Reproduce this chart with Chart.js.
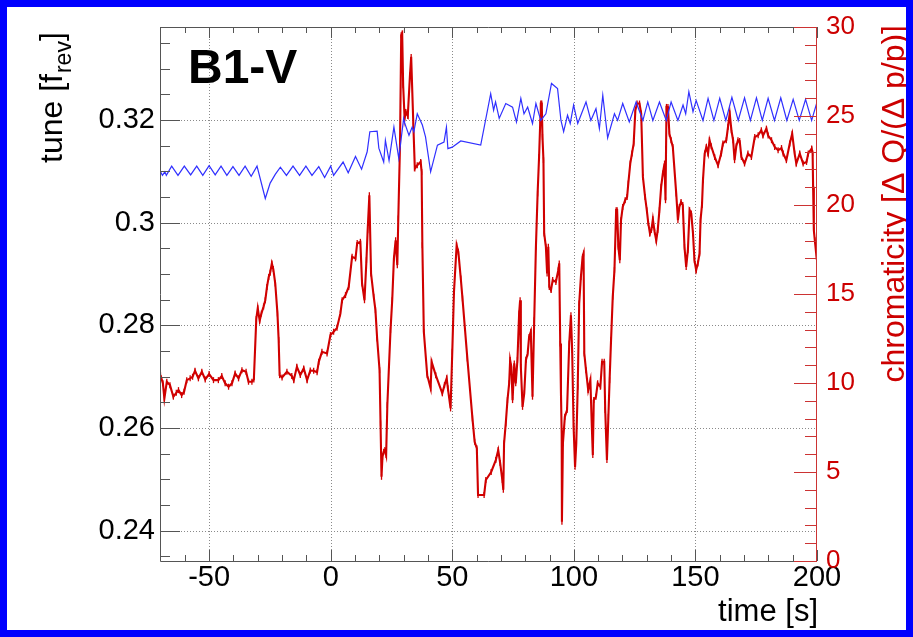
<!DOCTYPE html>
<html><head><meta charset="utf-8">
<script src="https://cdn.jsdelivr.net/npm/chart.js@4/dist/chart.umd.min.js"></script>
<style>html,body{margin:0;padding:0;background:#fff;}#wrap{width:913px;height:637px;position:relative;}canvas{display:block;}</style>
</head><body><div id="wrap"><canvas id="c" width="913" height="637"></canvas></div>
<script>
// ---- data ----
const tuneT = [-70.2,-69.2,-68.2,-67.6,-65.4,-62.8,-60.2,-57.6,-55.1,-52.6,-50.0,-47.5,-45.1,-42.7,-40.2,-37.7,-35.2,-32.7,-30.3,-26.9,-24.9,-22.8,-20.7,-18.2,-15.5,-12.8,-10.2,-7.7,-4.9,-2.5,0.0,1.2,5.1,7.2,10.2,12.7,15.0,16.1,19.1,19.8,21.8,22.5,24.0,26.0,28.0,30.0,30.5,32.2,33.5,34.2,35.6,37.7,39.0,41.1,43.9,46.6,47.6,48.2,50.0,53.5,61.7,65.8,67.0,67.8,69.3,72.0,74.8,76.4,78.2,79.5,81.0,83.0,84.4,86.4,88.5,90.8,93.3,94.7,95.8,97.4,98.5,99.9,101.6,102.9,105.0,107.0,109.1,110.5,111.9,113.9,116.7,118.0,120.1,122.8,125.6,128.4,130.4,132.5,135.2,138.0,140.0,142.8,144.9,146.0,147.3,149.0,150.3,153.1,155.2,157.6,160.0,162.5,165.0,167.6,170.2,172.6,175.1,177.5,179.9,182.5,185.1,187.6,190.2,192.7,195.3,197.8,200.2];
const tuneV = [0.3101,0.3092,0.3099,0.3092,0.3110,0.3092,0.3110,0.3093,0.3110,0.3092,0.3111,0.3093,0.3110,0.3092,0.3109,0.3092,0.3110,0.3090,0.3110,0.3047,0.3077,0.3094,0.3108,0.3092,0.3110,0.3092,0.3110,0.3092,0.3109,0.3088,0.3110,0.3092,0.3118,0.3097,0.3129,0.3104,0.3138,0.3177,0.3178,0.3145,0.3118,0.3160,0.3121,0.3186,0.3125,0.3203,0.3193,0.3170,0.3186,0.3177,0.3212,0.3190,0.3167,0.3099,0.3151,0.3157,0.3186,0.3144,0.3147,0.3159,0.3151,0.3251,0.3219,0.3235,0.3203,0.3232,0.3225,0.3196,0.3242,0.3212,0.3225,0.3193,0.3232,0.3199,0.3212,0.3271,0.3261,0.3199,0.3177,0.3209,0.3193,0.3229,0.3193,0.3209,0.3235,0.3199,0.3222,0.3183,0.3248,0.3165,0.3212,0.3199,0.3232,0.3196,0.3235,0.3199,0.3235,0.3199,0.3235,0.3199,0.3235,0.3199,0.3229,0.3212,0.3255,0.3216,0.3238,0.3199,0.3242,0.3199,0.3242,0.3199,0.3244,0.3199,0.3243,0.3199,0.3243,0.3199,0.3242,0.3199,0.3243,0.3199,0.3240,0.3199,0.3240,0.3199,0.3238];
const chromT = [-70.0,-69.0,-68.4,-67.4,-66.1,-64.7,-63.5,-62.6,-61.3,-60.3,-59.2,-57.8,-56.8,-55.8,-54.4,-53.0,-51.6,-50.0,-48.2,-46.2,-44.8,-43.4,-42.0,-40.6,-39.3,-37.9,-36.5,-34.8,-33.8,-32.4,-31.6,-30.6,-30.0,-29.2,-28.5,-27.6,-26.9,-26.2,-25.5,-24.9,-24.2,-23.6,-22.8,-21.9,-21.4,-21.0,-20.0,-18.0,-16.0,-15.2,-13.9,-12.5,-11.1,-9.7,-8.4,-7.0,-5.6,-4.9,-3.6,-1.5,-0.1,1.2,2.6,4.0,4.7,6.1,7.4,8.8,10.2,10.9,12.2,12.9,13.9,14.7,15.2,15.9,16.6,17.7,18.4,19.1,20.1,20.5,20.9,21.3,21.8,22.3,22.8,23.3,24.6,25.3,26.0,26.7,27.4,27.8,28.5,29.0,29.4,29.8,30.4,30.9,31.7,32.6,33.1,34.0,34.6,35.6,37.0,37.4,37.7,38.3,39.7,41.1,41.5,43.2,45.9,46.8,47.7,48.2,49.3,50.0,50.7,51.8,52.5,53.5,54.2,56.2,58.3,59.2,60.1,60.6,63.1,63.8,66.0,67.9,68.9,69.7,70.6,71.0,71.3,72.0,72.7,73.4,73.8,74.3,74.8,75.5,76.1,76.8,77.5,77.9,78.2,78.9,79.6,80.3,81.0,81.6,82.3,83.0,83.7,84.4,85.1,85.7,86.2,86.4,86.8,87.1,87.5,87.8,88.5,89.0,89.5,89.9,90.6,91.3,92.6,93.6,94.0,94.4,94.7,95.0,95.1,95.5,96.3,97.2,98.1,98.8,99.3,99.9,100.5,101.0,101.6,102.2,102.9,103.6,104.0,104.3,105.0,105.9,106.8,107.4,107.8,108.2,109.1,109.8,110.9,111.6,112.5,112.9,113.6,114.2,114.7,115.3,116.0,116.7,117.4,117.8,118.3,118.9,119.4,120.1,121.1,121.9,122.4,123.2,123.9,124.6,125.3,126.0,127.0,127.7,128.4,129.3,130.0,130.6,131.3,131.9,132.5,133.2,133.9,134.5,135.2,135.9,136.6,137.3,137.7,138.1,138.7,139.3,140.0,140.7,142.1,142.8,143.4,144.1,144.8,145.5,146.2,146.9,147.6,148.3,149.0,149.6,150.3,151.0,151.7,152.1,152.7,153.1,153.8,154.5,155.2,155.8,156.5,157.9,159.3,160.6,161.3,162.7,163.4,164.1,164.8,165.5,166.1,166.8,167.5,168.2,168.9,170.2,171.6,173.0,174.4,175.8,177.1,177.8,179.2,179.9,181.3,182.6,184.0,185.4,186.1,187.4,188.8,189.8,190.8,191.5,192.9,194.3,195.7,196.4,197.8,198.2,198.4,198.7,199.1,199.8,200.2];
const chromV = [10.44,9.98,9.13,10.07,9.88,9.23,9.45,9.60,9.32,9.51,10.16,10.26,10.35,10.69,10.26,10.63,10.20,10.50,10.16,10.16,10.39,9.98,9.79,9.98,10.54,10.26,10.72,10.63,10.07,10.07,10.2,13.6,14.2,13.5,13.9,14.3,14.65,15.4,15.96,16.2,16.72,16.4,15.59,13.91,12.41,10.44,10.31,10.63,10.4,10.16,10.91,10.45,10.82,10.16,10.7,10.69,10.6,11.19,11.75,11.66,12.69,12.88,13.1,13.91,14.65,14.94,15.4,17.09,17.0,17.87,17.93,15.59,14.65,16.9,18.58,20.55,16.15,14.84,14.09,12.5,10.72,7.73,4.73,5.86,6.14,6.23,5.95,8.76,12.97,14.65,17.0,18.02,16.62,19.24,23.36,29.53,29.63,26.73,24.86,25.23,25.0,27.29,28.32,24.48,22.05,22.23,22.42,21.86,17.74,12.88,10.44,9.7,11.19,10.44,9.42,9.88,10.26,9.7,8.57,11.75,15.12,17.74,17.37,15.87,14.75,11.38,8.01,6.7,6.33,3.71,3.71,4.55,5.0,5.67,6.23,5.5,4.55,4.0,6.61,7.73,9.04,9.98,11.29,10.91,9.04,11.1,9.98,11.29,13.91,14.65,10.91,8.66,9.42,11.3,11.66,12.59,12.88,9.23,13.53,17.65,20.65,22.7,24.76,25.7,25.7,23.82,22.52,18.4,17.65,16.15,17.65,15.4,15.22,15.78,15.68,16.34,16.72,12.22,9.42,7.17,2.21,6.61,8.1,8.48,12.22,13.81,11.85,7.54,5.29,6.61,9.79,14.47,15.96,17.09,17.28,11.66,10.72,9.6,10.16,7.54,5.95,9.04,9.23,9.98,9.79,11.19,11.19,8.48,5.67,8.1,10.16,12.41,14.84,16.34,19.71,19.71,17.65,16.9,19.15,19.89,20.27,20.45,21.21,22.33,22.89,23.45,25.32,25.7,25.7,25.14,21.58,20.45,19.71,19.0,18.4,18.6,19.2,18.5,18.0,18.6,19.71,21.02,21.77,22.33,20.27,25.51,25.5,24.0,23.64,23.26,20.65,19.15,19.89,20.17,20.0,17.65,16.52,17.46,19.71,19.52,18.4,16.9,16.34,16.72,17.28,19.15,20.0,21.39,22.89,23.26,22.89,23.64,23.3,22.7,22.23,22.89,23.45,23.64,24.39,25.14,24.2,23.64,22.52,23.3,23.64,23.6,22.7,22.33,22.89,22.7,23.82,23.92,24.2,23.9,24.29,23.9,23.64,23.26,23.08,23.2,22.89,22.52,23.45,24.0,22.89,22.33,22.89,22.33,22.42,22.9,23.17,22.9,21.02,18.58,18.02,17.09,16.72];
const xTickValues = [-50, 0, 50, 100, 150, 200];
const tuneTickValues = [0.24, 0.26, 0.28, 0.30, 0.32];
const tuneTickLabels = ['0.24', '0.26', '0.28', '0.3', '0.32'];
const chromTickValues = [0, 5, 10, 15, 20, 25, 30];

const FONT = "'Liberation Sans', Arial, Helvetica, sans-serif";
const RED = '#cc0000';

const framePlugin = {
  id: 'frame',
  beforeDatasetsDraw(chart) {
    const {ctx, chartArea: a, scales} = chart;
    const sx = scales.x, sy = scales.y;
    ctx.save();
    ctx.strokeStyle = '#8a8a8a';
    ctx.lineWidth = 1;
    ctx.setLineDash([1, 2]);
    xTickValues.forEach(v => {
      if (v >= 200) return;
      const px = Math.round(sx.getPixelForValue(v)) + 0.5;
      ctx.beginPath(); ctx.moveTo(px, a.top); ctx.lineTo(px, a.bottom); ctx.stroke();
    });
    tuneTickValues.forEach(v => {
      const py = Math.round(sy.getPixelForValue(v)) + 0.5;
      ctx.beginPath(); ctx.moveTo(a.left, py); ctx.lineTo(a.right, py); ctx.stroke();
    });
    ctx.restore();
  },
  afterDatasetsDraw(chart) {
    const {ctx, chartArea: a, scales} = chart;
    const sx = scales.x, sy = scales.y, s2 = scales.y2;
    ctx.save();
    ctx.setLineDash([]);
    ctx.lineWidth = 1;
    ctx.strokeStyle = '#555';
    for (let v = -70; v <= 200; v += 10) {
      const px = Math.round(sx.getPixelForValue(v)) + 0.5;
      const len = (v % 50 === 0) ? 11 : 6;
      ctx.beginPath(); ctx.moveTo(px, a.bottom); ctx.lineTo(px, a.bottom - len); ctx.stroke();
      ctx.beginPath(); ctx.moveTo(px, a.top); ctx.lineTo(px, a.top + len); ctx.stroke();
    }
    for (let k = 47; k <= 67; k++) {
      const v = k * 0.005;
      const py = Math.round(sy.getPixelForValue(v)) + 0.5;
      const len = (k % 4 === 0) ? 20 : 10;
      ctx.beginPath(); ctx.moveTo(a.left, py); ctx.lineTo(a.left + len, py); ctx.stroke();
    }
    ctx.strokeStyle = '#555';
    ctx.beginPath();
    ctx.moveTo(a.right, a.top + 0.5); ctx.lineTo(a.left + 0.5, a.top + 0.5);
    ctx.lineTo(a.left + 0.5, a.bottom + 0.5); ctx.lineTo(a.right, a.bottom + 0.5);
    ctx.stroke();
    ctx.strokeStyle = '#cc3333';
    for (let v = 0; v <= 30; v += 1) {
      const py = Math.round(s2.getPixelForValue(v)) + 0.5;
      const len = (v % 5 === 0) ? 23 : 12;
      ctx.beginPath(); ctx.moveTo(a.right, py); ctx.lineTo(a.right - len, py); ctx.stroke();
    }
    ctx.beginPath(); ctx.moveTo(a.right - 0.5, a.top); ctx.lineTo(a.right - 0.5, a.bottom + 1); ctx.stroke();
    ctx.restore();
  },
  afterDraw(chart) {
    const {ctx} = chart;
    ctx.save();
    ctx.fillStyle = '#000';
    ctx.font = 'bold 48px ' + FONT;
    ctx.textAlign = 'left'; ctx.textBaseline = 'alphabetic';
    ctx.fillText('B1-V', 188, 83);
    ctx.font = '31px ' + FONT;
    ctx.textAlign = 'right';
    ctx.fillText('time [s]', 818, 621);
    ctx.save();
    ctx.translate(62, 163);
    ctx.rotate(-Math.PI / 2);
    ctx.textAlign = 'left';
    ctx.font = '32px ' + FONT;
    const p1 = 'tune [f';
    ctx.fillText(p1, 0, 0);
    let w = ctx.measureText(p1).width;
    ctx.font = '23px ' + FONT;
    ctx.fillText('rev', w + 1, 9);
    w += ctx.measureText('rev').width + 1;
    ctx.font = '32px ' + FONT;
    ctx.fillText(']', w, 0);
    ctx.restore();
    ctx.save();
    ctx.translate(904, 25);
    ctx.rotate(-Math.PI / 2);
    ctx.textAlign = 'right';
    ctx.fillStyle = RED;
    ctx.font = '32px ' + FONT;
    ctx.fillText('chromaticity [\u0394 Q/(\u0394 p/p)]', 0, 0);
    ctx.restore();
    ctx.strokeStyle = '#0000ff';
    ctx.lineWidth = 7;
    ctx.strokeRect(3.5, 3.5, 913 - 7, 637 - 7);
    ctx.restore();
  }
};

new Chart(document.getElementById('c'), {
  type: 'line',
  data: {
    datasets: [
      {
        label: 'tune',
        data: tuneT.map((t, i) => ({x: t, y: tuneV[i]})),
        yAxisID: 'y',
        borderColor: '#3030ff',
        borderWidth: 1.2,
        pointRadius: 0,
        tension: 0
      },
      {
        label: 'chromaticity',
        data: chromT.map((t, i) => ({x: t, y: chromV[i]})),
        yAxisID: 'y2',
        borderColor: '#d00000',
        borderWidth: 2.1,
        pointStyle: 'line',
        pointRotation: 90,
        pointRadius: 3,
        pointBorderWidth: 1.3,
        pointBorderColor: '#d00000',
        pointBackgroundColor: '#d00000',
        tension: 0
      }
    ]
  },
  options: {
    responsive: false,
    animation: false,
    devicePixelRatio: 1,
    layout: {padding: {top: 27, left: 0, right: 0, bottom: 0}},
    plugins: {legend: {display: false}, tooltip: {enabled: false}},
    scales: {
      x: {
        type: 'linear', min: -70.2, max: 200,
        afterBuildTicks: s => { s.ticks = xTickValues.map(v => ({value: v})); },
        afterFit: s => { s.height = 76; },
        grid: {display: false, drawTicks: false}, border: {display: false},
        ticks: {color: '#000', padding: 0, autoSkip: false, maxRotation: 0, font: {family: FONT, size: 29}, callback: v => String(v)}
      },
      y: {
        type: 'linear', position: 'left', min: 0.2341, max: 0.3381,
        afterBuildTicks: s => { s.ticks = tuneTickValues.map(v => ({value: v})); },
        afterFit: s => { s.width = 160; },
        grid: {display: false, drawTicks: false}, border: {display: false},
        ticks: {color: '#000', padding: 5, autoSkip: false, font: {family: FONT, size: 29},
          callback: (v) => { const i = tuneTickValues.findIndex(t => Math.abs(t - v) < 1e-6); return i >= 0 ? tuneTickLabels[i] : ''; }}
      },
      y2: {
        type: 'linear', position: 'right', min: 0, max: 30,
        afterBuildTicks: s => { s.ticks = chromTickValues.map(v => ({value: v})); },
        afterFit: s => { s.width = 96; },
        grid: {display: false, drawTicks: false}, border: {display: false},
        ticks: {color: RED, padding: 9, autoSkip: false, font: {family: FONT, size: 26}, callback: v => String(v)}
      }
    }
  },
  plugins: [framePlugin]
});
</script></body></html>
